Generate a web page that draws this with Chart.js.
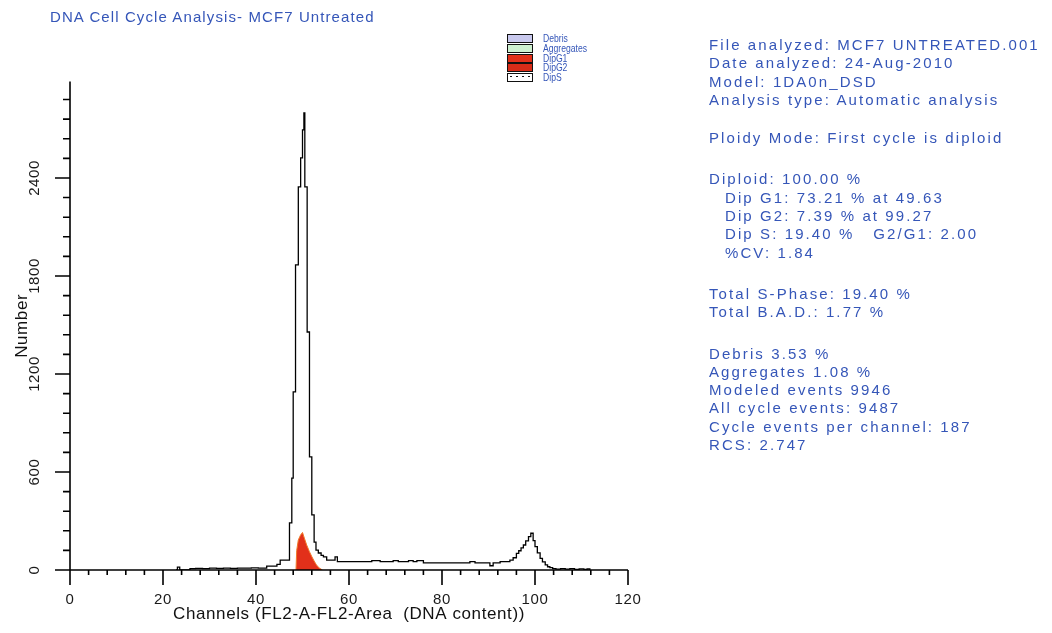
<!DOCTYPE html>
<html>
<head>
<meta charset="utf-8">
<title>DNA Cell Cycle Analysis- MCF7 Untreated</title>
<script src="https://cdn.jsdelivr.net/npm/chart.js@4.4.1/dist/chart.umd.min.js"></script>
<style>
    body { margin: 0; background: #fff; }
    #page { position: relative; width: 1052px; height: 633px; overflow: hidden; font-family: "Liberation Sans", Arial, sans-serif; color: #3556b8; }
    #cycleChart { position: absolute; left: 0; top: 0; }
    .title { position: absolute; left: 50px; top: 8px; font-size: 15px; line-height: 18px; letter-spacing: 1.1px; white-space: nowrap; }
    .legend { position: absolute; left: 507px; top: 33px; }
    .legend .row { position: relative; height: 9.8px; width: 90px; }
    .legend .box { position: absolute; left: 0; top: 1px; width: 24px; height: 7px; border: 1px solid #111; }
    .legend .label { position: absolute; left: 36px; top: -1px; font-size: 10.5px; line-height: 12px; transform: scaleX(0.82); transform-origin: left; white-space: nowrap; }
    .info { position: absolute; left: 709px; top: 36px; font-size: 15px; line-height: 18.3px; letter-spacing: 2.1px; }
    .info .group + .group { margin-top: 23px; }
    .info .line { white-space: pre; height: 18.3px; }
    .info .indent { padding-left: 16px; }
</style>
</head>
<body>
<div id="page">
    <canvas id="cycleChart" width="1052" height="633"></canvas>

    <div class="title">DNA Cell Cycle Analysis- MCF7 Untreated</div>

    <div class="legend">
        <div class="row"><span class="box" style="background:#c9c9ee"></span><span class="label">Debris</span></div>
        <div class="row"><span class="box" style="background:#cdf0d0"></span><span class="label">Aggregates</span></div>
        <div class="row"><span class="box" style="background:#e2301a"></span><span class="label">DipG1</span></div>
        <div class="row"><span class="box" style="background:#d82c18"></span><span class="label">DipG2</span></div>
        <div class="row"><span class="box" style="background:#fff radial-gradient(#111 0.8px, transparent 1px) 0 0 / 6px 5px"></span><span class="label">DipS</span></div>
    </div>

    <div class="info">
        <div class="group">
            <div class="line">File analyzed: MCF7 UNTREATED.001</div>
            <div class="line">Date analyzed: 24-Aug-2010</div>
            <div class="line">Model: 1DA0n_DSD</div>
            <div class="line">Analysis type: Automatic analysis</div>
        </div>
        <div class="group" style="margin-top:20px">
            <div class="line">Ploidy Mode: First cycle is diploid</div>
        </div>
        <div class="group">
            <div class="line">Diploid: 100.00 %</div>
            <div class="line indent">Dip G1: 73.21 % at 49.63</div>
            <div class="line indent">Dip G2: 7.39 % at 99.27</div>
            <div class="line indent">Dip S: 19.40 %   G2/G1: 2.00</div>
            <div class="line indent">%CV: 1.84</div>
        </div>
        <div class="group">
            <div class="line">Total S-Phase: 19.40 %</div>
            <div class="line">Total B.A.D.: 1.77 %</div>
        </div>
        <div class="group">
            <div class="line">Debris 3.53 %</div>
            <div class="line">Aggregates 1.08 %</div>
            <div class="line">Modeled events 9946</div>
            <div class="line">All cycle events: 9487</div>
            <div class="line">Cycle events per channel: 187</div>
            <div class="line">RCS: 2.747</div>
        </div>
    </div>
</div>

<script>
    // histogram: left edge of each channel bin and its count
    const channels = [22.8, 23.1, 23.6, 25.8, 27, 28.5, 30, 31.5, 33, 34.5, 36, 37.5, 39, 40.5, 42.3, 44.5, 45.2,
        47.2, 47.7, 48.0, 48.5, 49.1, 49.6, 50.0, 50.3, 50.5, 51.0, 51.5, 52.0, 52.5, 52.9, 53.4, 54.0, 54.5, 55.2,
        57.0, 57.5, 64.9, 66.7, 69.5, 70.6, 72.8, 73.8, 74.6, 76.0, 86.0, 87.1, 90.3, 91.0, 92.5, 94.6,
        95.3, 96.0, 96.5, 97.0, 97.5, 98.0, 98.6, 99.1, 99.6, 100.0, 100.5, 101.1, 101.6, 102.2, 102.7, 103.2,
        103.8, 104.5, 105.5, 106.5, 107.5, 108.5, 109.5, 110.5, 111.2, 111.8];
    const counts = [0, 18, 0, 8, 10, 9, 11, 10, 12, 10, 12, 11, 13, 12, 24, 35, 61,
        288, 563, 1090, 1868, 2345, 2523, 2694, 2798, 2345, 1457, 692, 337, 171, 122, 104, 90, 80, 61,
        80, 51, 57, 51, 57, 51, 57, 51, 57, 44, 51, 44, 26, 44, 51, 60,
        75, 102, 118, 136, 153, 178, 204, 225, 180, 143, 105, 71, 50, 31, 20, 14,
        8, 5, 9, 5, 8, 4, 7, 3, 6, 0];

    // modelled diploid G1 component
    const g1Channels = [48.6, 48.75, 49.1, 49.6, 50.0, 50.4, 50.9, 51.5, 52.0, 52.5, 53.0, 53.6, 54.3];
    const g1Counts = [0, 120, 184, 215, 230, 195, 153, 112, 82, 55, 31, 12, 0];

    const xMajorTicks = [0, 20, 40, 60, 80, 100, 120];
    const yMajorTicks = [0, 600, 1200, 1800, 2400];
    const xMinorStep = 4;
    const yMinorStep = 120;
    const yTop = 2990;

    function stepTicks(max, step) {
        const ticks = [];
        for (let v = 0; v <= max; v += step) ticks.push({ value: v });
        return ticks;
    }

    // axis lines with long major / short minor tick marks
    const axisTicks = {
        id: 'axisTicks',
        afterDraw(chart) {
            const { ctx, scales: { x, y } } = chart;
            const x0 = x.getPixelForValue(0);
            const y0 = y.getPixelForValue(0);
            ctx.save();
            ctx.strokeStyle = '#000';
            ctx.lineWidth = 1.6;
            ctx.beginPath();
            ctx.moveTo(x0, y.top);
            ctx.lineTo(x0, y0);
            ctx.lineTo(x.getPixelForValue(120), y0);
            y.ticks.forEach(t => {
                const py = y.getPixelForValue(t.value);
                const len = yMajorTicks.includes(t.value) ? 15 : 7;
                ctx.moveTo(x0 - len, py);
                ctx.lineTo(x0, py);
            });
            x.ticks.forEach(t => {
                const px = x.getPixelForValue(t.value);
                const len = xMajorTicks.includes(t.value) ? 15 : 5;
                ctx.moveTo(px, y0);
                ctx.lineTo(px, y0 + len);
            });
            ctx.stroke();
            ctx.restore();
        }
    };

    // the original print uses loosely spaced lettering
    const spacing = {
        id: 'spacing',
        beforeLayout(chart) { chart.ctx.letterSpacing = '0.6px'; },
        beforeDraw(chart) { chart.ctx.letterSpacing = '0.6px'; }
    };

    const fontFamily = '"Liberation Sans", Arial, sans-serif';

    new Chart(document.getElementById('cycleChart'), {
        type: 'line',
        data: {
            datasets: [
                {
                    label: 'Channels',
                    data: channels.map((c, i) => ({ x: c, y: counts[i] })),
                    stepped: true,
                    borderColor: '#000',
                    borderWidth: 1.3,
                    pointRadius: 0,
                    fill: false
                },
                {
                    label: 'DipG1',
                    data: g1Channels.map((c, i) => ({ x: c, y: g1Counts[i] })),
                    borderColor: '#f07a2a',
                    borderWidth: 1,
                    backgroundColor: '#e2301a',
                    pointRadius: 0,
                    fill: 'origin',
                    tension: 0
                }
            ]
        },
        options: {
            responsive: false,
            animation: false,
            events: [],
            layout: { padding: { left: 0, top: 81.6, right: 424, bottom: 0 } },
            plugins: {
                legend: { display: false },
                tooltip: { enabled: false }
            },
            scales: {
                x: {
                    type: 'linear',
                    min: 0,
                    max: 120,
                    afterBuildTicks: axis => { axis.ticks = stepTicks(120, xMinorStep); },
                    afterFit: axis => { axis.height = 63; },
                    grid: { display: false, drawTicks: false },
                    border: { display: false },
                    ticks: {
                        autoSkip: false,
                        maxRotation: 0,
                        padding: 21,
                        color: '#1a1a1a',
                        font: { family: fontFamily, size: 15 },
                        callback: value => xMajorTicks.includes(value) ? value : ''
                    },
                    title: {
                        display: true,
                        text: 'Channels (FL2-A-FL2-Area  (DNA content))',
                        color: '#111',
                        font: { family: fontFamily, size: 17 },
                        padding: { top: 0, bottom: 8 }
                    }
                },
                y: {
                    type: 'linear',
                    min: 0,
                    max: yTop,
                    afterBuildTicks: axis => { axis.ticks = stepTicks(2880, yMinorStep); },
                    afterFit: axis => { axis.width = 70; },
                    grid: { display: false, drawTicks: false },
                    border: { display: false },
                    ticks: {
                        autoSkip: false,
                        minRotation: 90,
                        maxRotation: 90,
                        crossAlign: 'center',
                        padding: 17,
                        color: '#1a1a1a',
                        font: { family: fontFamily, size: 15 },
                        callback: value => yMajorTicks.includes(value) ? value : ''
                    },
                    title: {
                        display: true,
                        text: 'Number',
                        color: '#111',
                        font: { family: fontFamily, size: 17 },
                        padding: { top: 12, bottom: 0 }
                    }
                }
            }
        },
        plugins: [spacing, axisTicks]
    });
</script>
</body>
</html>
